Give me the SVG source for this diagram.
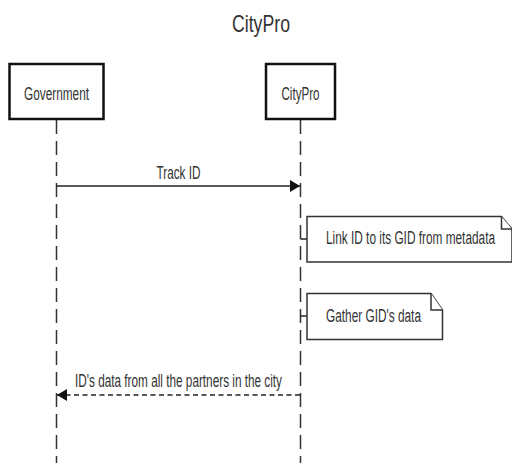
<svg xmlns="http://www.w3.org/2000/svg" width="512" height="463" viewBox="0 0 512 463">
<style>
text{font-family:"Liberation Sans",Arial,sans-serif;fill:#333}
.box{fill:#fff;stroke:#111;stroke-width:2.5}
.life{stroke:#333;stroke-width:1.5;stroke-dasharray:14 7;fill:none}
.note{fill:#fff;stroke:#333;stroke-width:1.5}
.msg{stroke:#222;stroke-width:1.5;fill:none}
</style>
<defs>
<marker id="ah" markerWidth="10" markerHeight="12" refX="10" refY="6" orient="auto" markerUnits="userSpaceOnUse">
<path d="M0,0 L10,6 L0,12 Z" fill="#111"/>
</marker>
</defs>
<rect width="512" height="463" fill="#fff"/>
<text x="261" y="32" font-size="24" text-anchor="middle" textLength="58" lengthAdjust="spacingAndGlyphs">CityPro</text>
<g id="connectors">
<line class="life" x1="56.5" y1="120" x2="56.5" y2="463"/>
<line class="life" x1="300.5" y1="120" x2="300.5" y2="463"/>
<line class="msg" x1="56.5" y1="186" x2="300" y2="186" marker-end="url(#ah)"/>
<text x="178.5" y="178.5" font-size="17.5" text-anchor="middle" textLength="44" lengthAdjust="spacingAndGlyphs">Track ID</text>
<line class="msg" x1="300" y1="395" x2="57" y2="395" stroke-dasharray="5 3.5" marker-end="url(#ah)"/>
<text x="178.5" y="387" font-size="17.5" text-anchor="middle" textLength="207" lengthAdjust="spacingAndGlyphs">ID's data from all the partners in the city</text>
<line class="msg" x1="300.5" y1="239" x2="307" y2="239"/>
<line class="msg" x1="300.5" y1="316" x2="307" y2="316"/>
</g>
<g id="government">
<rect class="box" x="9.5" y="64" width="94" height="55"/>
<text x="56.5" y="99.5" font-size="17.5" text-anchor="middle" textLength="65" lengthAdjust="spacingAndGlyphs">Government</text>
</g>
<g id="citypro">
<rect class="box" x="266" y="64" width="69" height="55"/>
<text x="300.5" y="99.5" font-size="17.5" text-anchor="middle" textLength="38" lengthAdjust="spacingAndGlyphs">CityPro</text>
</g>
<g id="note1">
<path class="note" d="M307,216.5 H501.5 L512,229 V262 H307 Z"/>
<path class="note" d="M501.5,216.5 V229 H512" fill="none"/>
<text x="326" y="244" font-size="18" textLength="169" lengthAdjust="spacingAndGlyphs">Link ID to its GID from metadata</text>
</g>
<g id="note2">
<path class="note" d="M307,293.5 H431 L442.5,310 V339.5 H307 Z"/>
<path class="note" d="M431,293.5 V310 H442.5" fill="none"/>
<text x="326" y="321.5" font-size="18" textLength="95" lengthAdjust="spacingAndGlyphs">Gather GID's data</text>
</g>
</svg>
